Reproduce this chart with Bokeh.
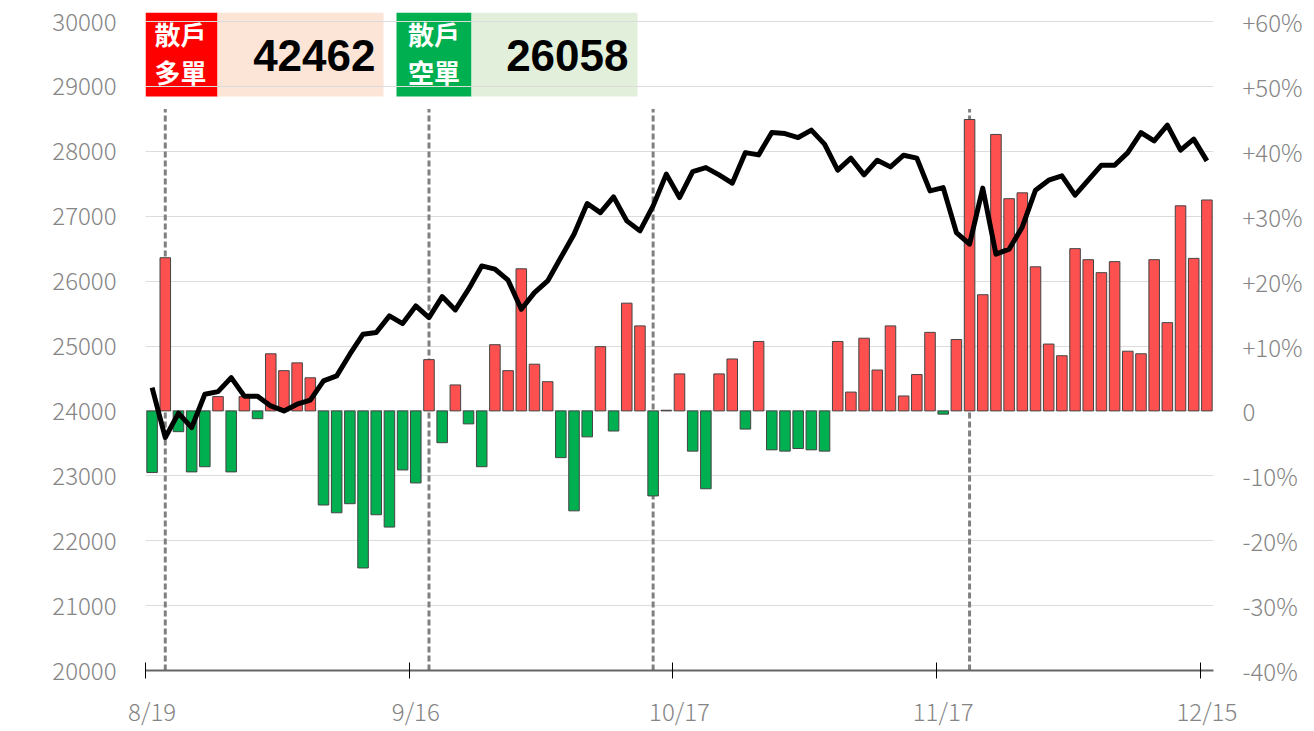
from math import pi
from bokeh.plotting import figure
from bokeh.models import Range1d, LinearAxis, FixedTicker, Label, ColumnDataSource
from bokeh.core.properties import value
from bokeh.embed import file_html
from bokeh.resources import INLINE

# ---------------- data ----------------
index_close = [24359, 23589, 23965, 23743, 24257, 24297, 24513, 24227, 24227, 24077,
               24000, 24103, 24165, 24462, 24539, 24874, 25182, 25207, 25464, 25345,
               25618, 25438, 25761, 25556, 25875, 26234, 26184, 26014, 25567, 25823,
               26003, 26362, 26723, 27195, 27056, 27298, 26928, 26774, 27159, 27648,
               27287, 27688, 27749, 27637, 27509, 27980, 27945, 28289, 28273, 28212,
               28326, 28110, 27709, 27894, 27637, 27863, 27760, 27940, 27894, 27390,
               27441, 26748, 26569, 27432, 26415, 26492, 26835, 27401, 27555, 27621,
               27324, 27555, 27786, 27786, 27980, 28289, 28161, 28403, 28017, 28187,
               27853]

retail_net_pct = [-9.5, 23.6, -3.2, -9.4, -8.6, 2.2, -9.4, 2.2, -1.2, 8.8,
                  6.2, 7.4, 5.1, -14.5, -15.7, -14.3, -24.2, -16.0, -17.9, -9.1,
                  -11.1, 7.9, -4.9, 4.0, -2.0, -8.6, 10.2, 6.2, 21.9, 7.2,
                  4.5, -7.2, -15.4, -4.0, 9.9, -3.1, 16.6, 13.1, -13.1, 0.1,
                  5.7, -6.2, -12.0, 5.7, 8.0, -2.8, 10.7, -6.0, -6.2, -5.8,
                  -6.0, -6.2, 10.7, 2.9, 11.2, 6.3, 13.1, 2.3, 5.6, 12.1,
                  -0.5, 11.0, 44.9, 17.9, 42.6, 32.7, 33.6, 22.2, 10.3, 8.5,
                  25.0, 23.3, 21.3, 23.0, 9.2, 8.8, 23.3, 13.6, 31.6, 23.5,
                  32.5]

tick_idx = [0, 20, 40, 60, 80]
tick_labels = ["8/19", "9/16", "10/17", "11/17", "12/15"]
settle_idx = [1, 21, 38, 62]          # settlement days (dashed lines)
y_ticks = list(range(20000, 30001, 1000))
pct_ticks = list(range(-40, 61, 10))
retail_long = 42462
retail_short = 26058

# ---------------- layout ----------------
FONT = "Noto Sans CJK TC Light, Noto Sans CJK TC"
GRAY = "#858585"
W, H = 1312, 730
FRAME_L, FRAME_R = 145, 1213
FRAME_T, FRAME_B = 12, 670
TOP_TICK_PX = 21                      # y pixel of 30000
n = len(index_close)
ppu = (FRAME_B - TOP_TICK_PX) / (y_ticks[-1] - y_ticks[0])
y_end = y_ticks[0] + (FRAME_B - FRAME_T) / ppu


def xd(px):
    return -0.5 + (px - FRAME_L) * n / (FRAME_R - FRAME_L)


def yd(py):
    return y_ticks[0] + (FRAME_B - py) / ppu


p = figure(width=W, height=H, x_range=Range1d(-0.5, n - 0.5),
           y_range=Range1d(y_ticks[0], y_end),
           output_backend="svg", toolbar_location=None,
           min_border_left=FRAME_L, min_border_right=W - FRAME_R,
           min_border_top=FRAME_T, min_border_bottom=H - FRAME_B,
           outline_line_color=None, background_fill_color="white")

p.extra_y_ranges = {"pct": Range1d((y_ticks[0] - 24000) / 100, (y_end - 24000) / 100)}

# grid
p.xgrid.visible = False
p.ygrid.ticker = FixedTicker(ticks=y_ticks)
p.ygrid.grid_line_color = "#dcdcdc"
p.ygrid.grid_line_width = 1

# left axis
ly = p.yaxis[0]
ly.ticker = FixedTicker(ticks=y_ticks)
ly.axis_line_color = None
ly.major_tick_in = 0
ly.major_tick_out = 0
ly.minor_tick_line_color = None
ly.major_label_standoff = 29
ly.major_label_text_font = FONT
ly.major_label_text_font_size = "24px"
ly.major_label_text_color = GRAY

# right axis
def pct_label(v):
    if v > 0:
        return "+%d%%" % v
    if v == 0:
        return "0"
    return "%d%%" % v

ry = LinearAxis(y_range_name="pct", ticker=FixedTicker(ticks=pct_ticks),
                major_label_overrides={v: pct_label(v) for v in pct_ticks})
ry.axis_line_color = None
ry.major_tick_in = 0
ry.major_tick_out = 0
ry.minor_tick_line_color = None
ry.major_label_standoff = 29
ry.major_label_text_font = FONT
ry.major_label_text_font_size = "24px"
ry.major_label_text_color = GRAY
p.add_layout(ry, "right")

# bottom axis
bx = p.xaxis[0]
bx.ticker = FixedTicker(ticks=tick_idx, minor_ticks=[i - 0.5 for i in tick_idx])
bx.major_label_overrides = {i: lab for i, lab in zip(tick_idx, tick_labels)}
bx.major_tick_in = 0
bx.major_tick_out = 0
bx.minor_tick_in = 8
bx.minor_tick_out = 8
bx.minor_tick_line_color = "black"
bx.minor_tick_line_width = 1
bx.axis_line_color = "#666666"
bx.axis_line_width = 2
bx.major_label_standoff = 14
bx.major_label_text_font = FONT
bx.major_label_text_font_size = "24px"
bx.major_label_text_color = GRAY

# header boxes (under the grid)
p.quad(left=[xd(145), xd(217), xd(396), xd(471)],
       right=[xd(217), xd(383), xd(471), xd(637)],
       top=[yd(12)] * 4, bottom=[yd(96)] * 4,
       fill_color=["#FF0000", "#FCE4D6", "#00B050", "#E2EFDA"],
       line_color=None, level="image")

# settlement dashed lines
p.segment(x0=settle_idx, x1=settle_idx, y0=[y_ticks[0]] * len(settle_idx),
          y1=[28650] * len(settle_idx), line_color="#808080", line_width=3,
          line_dash="6 3")

# bars
colors = ["#FF5050" if v >= 0 else "#00B050" for v in retail_net_pct]
src = ColumnDataSource(dict(x=list(range(n)), top=retail_net_pct, c=colors))
p.vbar(x="x", top="top", bottom=0, width=0.8, fill_color="c", line_color="#444444",
       line_width=1, source=src, y_range_name="pct")

# index line
p.line(list(range(n)), index_close, line_color="black", line_width=5, line_join="round")

# box texts
p.text(x=[xd(180), xd(180), xd(433.5), xd(433.5)],
       y=[yd(33), yd(71), yd(33), yd(71)],
       text=["散戶", "多單", "散戶", "空單"],
       text_font=value("Noto Sans CJK TC"), text_font_style="bold",
       text_font_size="26px", text_color="white",
       text_align="center", text_baseline="middle")
p.text(x=[xd(375), xd(628)], y=[yd(55), yd(55)],
       text=[str(retail_long), str(retail_short)],
       text_font=value("Liberation Sans"), text_font_style="bold",
       text_font_size="44px", text_color="black",
       text_align="right", text_baseline="middle")

# y-axis title (reads top to bottom)
p.add_layout(Label(x=xd(17), y=yd(355), text="加權指數", angle=-pi / 2,
                   text_align="center", text_baseline="middle",
                   text_font=FONT, text_font_size="24px", text_color=GRAY))

with open("out.html", "w", encoding="utf-8") as f:
    f.write(file_html(p, INLINE, title="chart"))
